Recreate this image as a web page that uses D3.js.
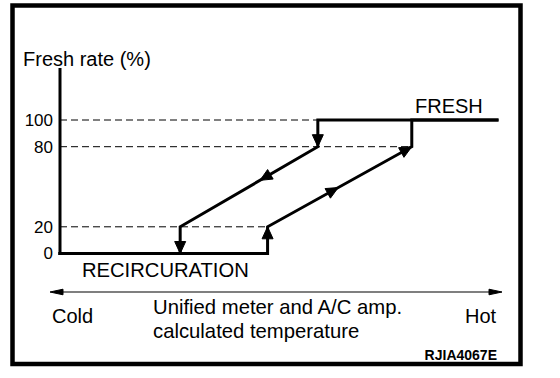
<!DOCTYPE html>
<html><head><meta charset="utf-8">
<script src="https://cdn.jsdelivr.net/npm/d3@7"></script>
<style>
body{margin:0;background:#fff}
svg{display:block}
text{font-family:"Liberation Sans",Arial,Helvetica,sans-serif;fill:#000}
</style>
</head><body>
<svg id="c" width="560" height="378"></svg>
<script>
// ---- data ----
const yTicks = [0, 20, 80, 100];
const risingTemp = [0, 47.5, 47.5, 80.5, 80.5, 100];
const risingRate = [0, 0, 20, 80, 100, 100];
const fallingTemp = [100, 59, 59, 27.5, 27.5, 0];
const fallingRate = [100, 100, 80, 20, 0, 0];
// [segment index, fraction along segment] where an arrowhead tip sits
const risingArrows = [[1, 1], [2, 0.49], [2, 1]];
const fallingArrows = [[1, 1], [2, 0.42], [3, 1]];
const labels = {
  yTitle: "Fresh rate (%)",
  fresh: "FRESH",
  recirc: "RECIRCURATION",
  cold: "Cold",
  hot: "Hot",
  xTitle1: "Unified meter and A/C amp.",
  xTitle2: "calculated temperature",
  code: "RJIA4067E"
};

// ---- layout ----
const svg = d3.select("#c");
const x = d3.scaleLinear().domain([0, 100]).range([60, 497]);
const y = d3.scaleLinear().domain([0, 100]).range([253.5, 120]);

// frame
svg.append("rect").attr("x", 12.5).attr("y", 5.5).attr("width", 508).attr("height", 358.5)
  .attr("fill", "#fff").attr("stroke", "#000").attr("stroke-width", 4.5);

const rising = risingTemp.map((t, i) => [t, risingRate[i]]);
const falling = fallingTemp.map((t, i) => [t, fallingRate[i]]);

// dashed reference lines
yTicks.filter(v => v > 0).forEach(v => {
  const pts = rising.concat(falling).filter(p => p[1] === v && p[0] < 100);
  const xe = d3.max(pts, p => p[0]);
  svg.append("line").attr("x1", x(0)).attr("x2", x(xe)).attr("y1", y(v)).attr("y2", y(v))
    .attr("stroke", "#000").attr("stroke-width", 1).attr("stroke-dasharray", "7,4");
});

// y axis
const yAxis = d3.axisLeft(y).tickValues(yTicks).tickSize(0).tickPadding(7);
const ga = svg.append("g").attr("transform", `translate(${x(0)},0)`).call(yAxis);
ga.select(".domain").remove();
ga.selectAll("text").attr("font-size", 17).attr("font-family", '"Liberation Sans",Arial,sans-serif').attr("fill", "#000");
svg.append("line").attr("x1", x(0)).attr("x2", x(0)).attr("y1", y(0) + 1.5).attr("y2", y.range()[1] - 52)
  .attr("stroke", "#000").attr("stroke-width", 3);

// paths
const line = d3.line().x(p => x(p[0])).y(p => y(p[1]));
[rising, falling].forEach(pts => {
  svg.append("path").attr("d", line(pts)).attr("fill", "none").attr("stroke", "#000")
    .attr("stroke-width", 3).attr("stroke-linejoin", "miter").attr("stroke-linecap", "square");
});

function arrowHead(x0, y0, x1, y1, f, L, W) {
  const tx = x0 + (x1 - x0) * f, ty = y0 + (y1 - y0) * f;
  const len = Math.hypot(x1 - x0, y1 - y0);
  const dx = (x1 - x0) / len, dy = (y1 - y0) / len;
  const nx = -dy, ny = dx;
  const bx = tx - L * dx, by = ty - L * dy;
  svg.append("path")
    .attr("d", `M${tx},${ty}L${bx + W * nx},${by + W * ny}L${bx - W * nx},${by - W * ny}Z`)
    .attr("fill", "#000").attr("stroke", "#000").attr("stroke-width", 1);
}
[[rising, risingArrows], [falling, fallingArrows]].forEach(([pts, arrs]) => {
  arrs.forEach(([s, f]) => {
    const a = pts[s], b = pts[s + 1];
    arrowHead(x(a[0]), y(a[1]), x(b[0]), y(b[1]), f, 12, 5.5);
  });
});

// x axis double arrow
const ax = 292;
svg.append("line").attr("x1", x(0) - 6).attr("x2", x(100) + 1).attr("y1", ax).attr("y2", ax)
  .attr("stroke", "#000").attr("stroke-width", 1.2);
arrowHead(x(0) + 10, ax, x(0) - 10, ax, 1, 13, 2.8);
arrowHead(x(100) - 10, ax, x(100) + 5, ax, 1, 13, 2.8);

// texts
const T = (s, tx, ty, fs, extra) => {
  const t = svg.append("text").attr("x", tx).attr("y", ty).attr("font-size", fs).text(s);
  if (extra) extra(t);
  return t;
};
T(labels.yTitle, 23, 66, 20);
T(labels.fresh, 415, 113, 20);
T(labels.recirc, 82, 277, 20.2);
T(labels.cold, 52, 323, 20);
T(labels.hot, 465, 323, 20);
T(labels.xTitle1, 153, 314, 20.3);
T(labels.xTitle2, 153, 338, 20.3);
T(labels.code, 497, 360, 14, t => t.attr("text-anchor", "end").attr("font-weight", "bold"));
</script>
</body></html>
